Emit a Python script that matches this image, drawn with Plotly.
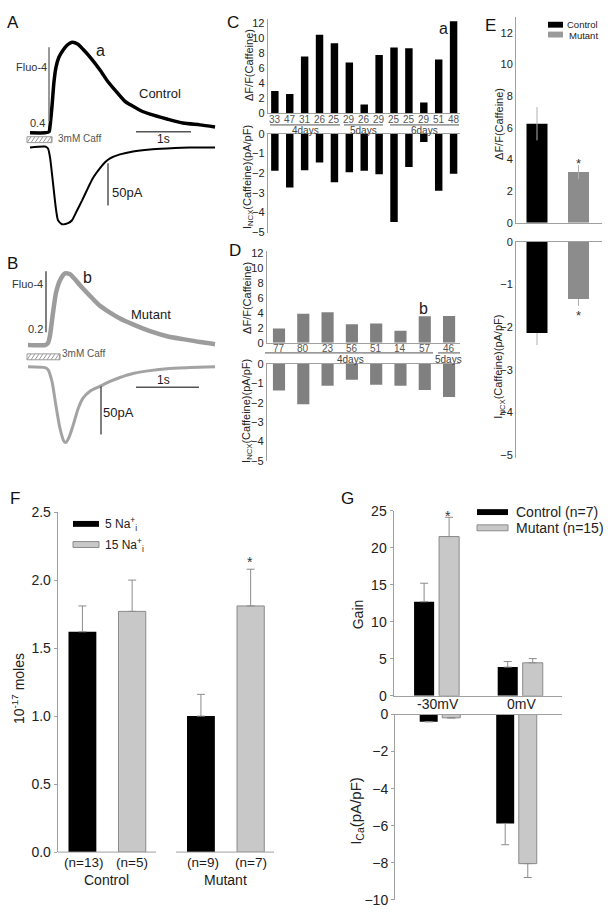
import plotly.graph_objects as go

FONT = "Liberation Sans, Arial, sans-serif"
W, H = 612, 922

# ---------------- data ----------------
# Panel A (Control) traces: time (s), dF/F and current (pA)
A_fluo_t = [0, .273, .345, .364, .400, .436, .473, .527, .600, .673, .764, .873, .964, 1.091, 1.273,
            1.418, 1.582, 1.727, 1.873, 2.036, 2.182, 2.491, 2.782, 3.091, 3.364]
A_fluo = [0, 0, .005, .037, .144, .277, .357, .411, .448, .475, .491, .480, .453, .411, .341,
          .277, .219, .171, .144, .117, .101, .075, .053, .043, .032]
A_curr_t = [0, .273, .327, .364, .418, .473, .509, .582, .691, .764, .855, .945, 1.055, 1.145, 1.273,
            1.364, 1.455, 1.636, 1.873, 2.182, 2.491, 2.909, 3.364]
A_curr = [0, 1.25, -1.25, -12.5, -45, -78.75, -92.5, -97.5, -96.25, -92.5, -80, -67.5, -51.25, -38.75,
          -26.25, -18.75, -13.75, -8.75, -5, -2.5, -1.25, 0, 0]

# Panel B (Mutant) traces
B_fluo_t = [0, .279, .328, .361, .410, .459, .525, .607, .689, .770, .852, 1.016, 1.180, 1.344, 1.508,
            1.721, 2.000, 2.279, 2.541, 2.820, 3.066]
B_fluo = [0, 0, .007, .033, .110, .177, .220, .243, .240, .223, .203, .167, .133, .110, .090,
          .070, .047, .030, .020, .010, .003]
B_curr_t = [0, .279, .328, .393, .459, .525, .590, .623, .672, .738, .820, .902, 1.016, 1.180, 1.344,
            1.508, 1.721, 2.000, 2.279, 2.656, 3.066]
B_curr = [0, -1.0, -3.1, -15.6, -41.7, -65.6, -79.2, -80.2, -75.0, -62.5, -44.8, -33.3, -26.0, -20.8,
          -15.6, -11.5, -7.3, -4.2, -2.1, -1.0, 0]

# Panel C (control cells)
C_cells = ["33", "47", "31", "26", "25", "29", "26", "29", "25", "25", "29", "51", "48"]
C_dff = [3.0, 2.6, 7.6, 10.5, 9.35, 6.8, 1.2, 7.8, 8.8, 8.7, 1.45, 7.2, 12.3]
C_incx = [-1.88, -2.73, -1.85, -1.46, -2.47, -1.96, -1.88, -2.06, -4.5, -1.69, -0.4, -2.9, -2.03]
C_days = ["4days", "5days", "6days"]

# Panel D (mutant cells)
D_cells = ["77", "80", "23", "56", "51", "14", "57", "46"]
D_dff = [1.93, 3.9, 4.1, 2.5, 2.6, 1.6, 3.55, 3.6]
D_incx = [-1.37, -2.08, -1.12, -0.81, -1.07, -1.12, -1.34, -1.71]
D_days = ["4days", "5days"]

# Panel E (means)
E_groups = ["Control", "Mutant"]
E_dff = [6.25, 3.2]
E_dff_err = [1.05, 0.45]
E_incx = [-2.14, -1.34]
E_incx_err = [0.28, 0.16]

# Panel F
F_groups = ["Control", "Mutant"]
F_na5 = [1.62, 1.0]
F_na5_err = [0.19, 0.16]
F_na15 = [1.77, 1.81]
F_na15_err = [0.23, 0.27]
F_n5 = ["(n=13)", "(n=9)"]
F_n15 = ["(n=5)", "(n=7)"]

# Panel G
G_groups = ["-30mV", "0mV"]
G_gain_ctrl = [12.7, 3.88]
G_gain_ctrl_err = [2.5, 0.75]
G_gain_mut = [21.5, 4.46]
G_gain_mut_err = [2.6, 0.57]
G_ica_ctrl = [-0.39, -5.88]
G_ica_ctrl_err = [0.0, 1.15]
G_ica_mut = [-0.18, -8.05]
G_ica_mut_err = [0.0, 0.75]

# ---------------- helpers ----------------
def PX(x): return x / W
def PY(y): return 1 - y / H
def XD(a, b): return [a / W, b / W]
def YD(top, bot): return [1 - bot / H, 1 - top / H]

shapes, annotations = [], []

def ann(text, x, y, size, color="#1a1a1a", xanchor="center", angle=0, xref="paper"):
    annotations.append(dict(text=text, x=PX(x) if xref == "paper" else x, y=PY(y), xref=xref, yref="paper",
                            showarrow=False, font=dict(size=size, color=color, family=FONT), xanchor=xanchor,
                            yanchor="middle", textangle=angle, borderpad=0))

def line(x0, y0, x1, y1, color="#555", width=1.5):
    shapes.append(dict(type="line", xref="paper", yref="paper", x0=PX(x0), y0=PY(y0), x1=PX(x1), y1=PY(y1),
                       line=dict(color=color, width=width)))

def rect(x0, y0, x1, y1, fill, lc=None, lw=0):
    shapes.append(dict(type="rect", xref="paper", yref="paper", x0=PX(x0), y0=PY(y0), x1=PX(x1), y1=PY(y1),
                       fillcolor=fill, line=dict(color=lc or fill, width=lw)))

def hatch(x0, y0, x1, y1, color="#999"):
    rect(x0, y0, x1, y1, "rgba(0,0,0,0)", color, 1)
    p = ""
    x = x0
    while x < x1:
        xa, xb = x, min(x + 4, x1)
        p += f"M{PX(xa)},{PY(y1)} L{PX(xb)},{PY(y0)} "
        x += 4
    shapes.append(dict(type="path", xref="paper", yref="paper", path=p, line=dict(color=color, width=1)))

AXC = "#a0a0a0"
def vaxis(**kw):
    d = dict(showline=True, linecolor=AXC, linewidth=1, showgrid=False, zeroline=False, ticks="",
             tickfont=dict(size=11, color="#222", family=FONT))
    d.update(kw)
    return d

layout = dict(width=W, height=H, margin=dict(l=0, r=0, t=0, b=0), paper_bgcolor="white",
              plot_bgcolor="rgba(0,0,0,0)", showlegend=False, barmode="overlay", hovermode=False,
              font=dict(family=FONT, color="#1a1a1a"))

fig = go.Figure()

# ---------------- Panel A ----------------
a_t0, a_sp = 30, 1 / 55          # px of t=0, s per px
a_fb, a_fs = 127, 0.4 / 75       # baseline px, dF/F per px
a_cb, a_cs = 142, 50 / 40        # baseline px, pA per px
layout["xaxis"] = dict(domain=XD(20, 230), range=[(20 - a_t0) * a_sp, (230 - a_t0) * a_sp], visible=False, anchor="y")
layout["yaxis"] = dict(domain=YD(20, 230), range=[(a_fb - 230) * a_fs, (a_fb - 20) * a_fs], visible=False, anchor="x")
layout["yaxis2"] = dict(range=[(a_cb - 230) * a_cs, (a_cb - 20) * a_cs], visible=False, anchor="x", overlaying="y")
fig.add_trace(go.Scatter(x=A_fluo_t, y=A_fluo, xaxis="x", yaxis="y", mode="lines",
                         line=dict(color="black", width=3.5, shape="spline", smoothing=0.6)))
fig.add_trace(go.Scatter(x=A_curr_t, y=A_curr, xaxis="x", yaxis="y2", mode="lines",
                         line=dict(color="black", width=2, shape="spline", smoothing=0.6)))

# ---------------- Panel B ----------------
b_t0, b_sp = 28, 1 / 61
b_fb, b_fs = 343, 0.2 / 60
b_cb, b_cs = 365, 50 / 48
layout["xaxis2"] = dict(domain=XD(20, 230), range=[(20 - b_t0) * b_sp, (230 - b_t0) * b_sp], visible=False, anchor="y3")
layout["yaxis3"] = dict(domain=YD(255, 465), range=[(b_fb - 465) * b_fs, (b_fb - 255) * b_fs], visible=False, anchor="x2")
layout["yaxis4"] = dict(range=[(b_cb - 465) * b_cs, (b_cb - 255) * b_cs], visible=False, anchor="x2", overlaying="y3")
fig.add_trace(go.Scatter(x=B_fluo_t, y=B_fluo, xaxis="x2", yaxis="y3", mode="lines",
                         line=dict(color="#9c9c9c", width=4.5, shape="spline", smoothing=0.6)))
fig.add_trace(go.Scatter(x=B_curr_t, y=B_curr, xaxis="x2", yaxis="y4", mode="lines",
                         line=dict(color="#a3a3a3", width=3, shape="spline", smoothing=0.6)))

# ---------------- Panel C ----------------
nC = len(C_cells)
layout["xaxis3"] = vaxis(domain=XD(267.7, 460), range=[-0.48, nC - 0.57], anchor="y5", showticklabels=False)
layout["yaxis5"] = vaxis(domain=YD(11, 107.3), range=[0, 12.62], anchor="x3", tickvals=list(range(0, 13, 2)))
layout["xaxis4"] = vaxis(domain=XD(267.7, 460), range=[-0.48, nC - 0.57], anchor="y6", side="top",
                         showticklabels=False)
layout["yaxis6"] = vaxis(domain=YD(128.3, 228.7), range=[-5.05, 0], anchor="x4", tickvals=list(range(0, -6, -1)))
fig.add_trace(go.Bar(x=list(range(nC)), y=C_dff, xaxis="x3", yaxis="y5", width=0.5, marker=dict(color="black", line_width=0)))
fig.add_trace(go.Bar(x=list(range(nC)), y=C_incx, xaxis="x4", yaxis="y6", width=0.5, marker=dict(color="black", line_width=0)))
for i, lab in enumerate(C_cells):
    ann(lab, i, 113, 10, "#555", xref="x3")
for (x0, x1), lab in zip([(270, 340), (344, 383), (390, 459)], C_days):
    line(x0, 119, x1, 119, "#555", 1)
    ann(lab, (x0 + x1) / 2, 124.5, 10, "#444")
ann("a", 443, 21, 16)
ann("ΔF/F(Caffeine)", 249, 58, 11, "#222", angle=-90)
ann("I<sub>NCX</sub>(Caffeine)(pA/pF)", 248, 172, 11, "#222", angle=-90)

# ---------------- Panel D ----------------
nD = len(D_cells)
layout["xaxis5"] = vaxis(domain=XD(266.7, 460), range=[-0.506, nD - 0.55], anchor="y7", showticklabels=False)
layout["yaxis7"] = vaxis(domain=YD(247.4, 340.7), range=[0, 12.3], anchor="x5", tickvals=list(range(0, 13, 2)))
layout["xaxis6"] = vaxis(domain=XD(266.7, 460), range=[-0.506, nD - 0.55], anchor="y8", side="top",
                         showticklabels=False)
layout["yaxis8"] = vaxis(domain=YD(362.3, 461.5), range=[-5.04, 0], anchor="x6", tickvals=list(range(0, -6, -1)))
fig.add_trace(go.Bar(x=list(range(nD)), y=D_dff, xaxis="x5", yaxis="y7", width=0.5, marker=dict(color="#808080", line_width=0)))
fig.add_trace(go.Bar(x=list(range(nD)), y=D_incx, xaxis="x6", yaxis="y8", width=0.5, marker=dict(color="#808080", line_width=0)))
for i, lab in enumerate(D_cells):
    ann(lab, i, 346.5, 10, "#555", xref="x5")
for (x0, x1), lab, cx in zip([(265, 433), (438, 460)], D_days, [350, 449]):
    line(x0, 351, x1, 351, "#555", 1)
    ann(lab, cx, 357.5, 10, "#444")
ann("b", 423, 306, 16)
ann("ΔF/F(Caffeine)", 247, 295, 11, "#222", angle=-90)
ann("I<sub>NCX</sub>(Caffeine)(pA/pF)", 247, 410, 11, "#222", angle=-90)

# ---------------- Panel E ----------------
layout["xaxis7"] = vaxis(domain=XD(516, 602), range=[-0.506, 1.566], anchor="y9", showticklabels=False,
                         type="category", categoryorder="array", categoryarray=E_groups)
layout["yaxis9"] = vaxis(domain=YD(9, 218.5), range=[0, 13.0], anchor="x7", tickvals=list(range(0, 13, 2)))
layout["xaxis8"] = vaxis(domain=XD(516, 602), range=[-0.506, 1.566], anchor="y10", side="top", showticklabels=False,
                         type="category", categoryorder="array", categoryarray=E_groups)
layout["yaxis10"] = vaxis(domain=YD(238, 458), range=[-5.07, 0], anchor="x8", tickvals=list(range(0, -6, -1)))
fig.add_trace(go.Bar(x=E_groups, y=E_dff, xaxis="x7", yaxis="y9", width=0.506,
                     marker=dict(color=["black", "#8c8c8c"], line_width=0),
                     error_y=dict(type="data", array=E_dff_err, color="#b0b0b0", thickness=1, width=0)))
fig.add_trace(go.Bar(x=E_groups, y=E_incx, xaxis="x8", yaxis="y10", width=0.506,
                     marker=dict(color=["black", "#8c8c8c"], line_width=0),
                     error_y=dict(type="data", array=[0, 0], arrayminus=E_incx_err, color="#b0b0b0", thickness=1, width=0)))
ann("*", 578.5, 158, 13, "#333")
ann("*", 578.5, 313, 13, "#333")
ann("ΔF/F(Caffeine)", 499, 118, 11, "#222", angle=-90)
ann("I<sub>NCX</sub>(Caffeine)(pA/pF)", 499, 365, 11, "#222", angle=-90)
rect(548, 14, 563, 20, "black")
rect(548, 24, 563, 30, "#9a9a9a")
ann("Control", 566, 16.8, 9.5, "#222", xanchor="left")
ann("Mutant", 568, 27.5, 9.5, "#222", xanchor="left")

# ---------------- Panel F ----------------
layout["xaxis9"] = dict(domain=XD(57.7, 290), range=[-0.416, 1.544], anchor="y11", visible=False,
                        type="category", categoryorder="array", categoryarray=F_groups)
layout["yaxis11"] = vaxis(domain=YD(513, 859), range=[0, 2.5], anchor="x9", tickvals=[0, 0.5, 1, 1.5, 2, 2.5],
                          tickformat=".1f", ticks="outside", ticklen=3, tickcolor=AXC,
                          tickfont=dict(size=14, color="#222", family=FONT))
EB = dict(color="#8c8c8c", thickness=1, width=4)
fig.add_trace(go.Bar(x=F_groups, y=F_na5, xaxis="x9", yaxis="y11", offset=-0.325, width=0.235,
                     marker=dict(color="black", line_width=0),
                     error_y=dict(type="data", array=F_na5_err, arrayminus=[0, 0], **EB)))
fig.add_trace(go.Bar(x=F_groups, y=F_na15, xaxis="x9", yaxis="y11", offset=0.097, width=0.23,
                     marker=dict(color="#c8c8c8", line=dict(color="#8a8a8a", width=1)),
                     error_y=dict(type="data", array=F_na15_err, arrayminus=[0, 0], **EB)))
line(57.7, 859, 156, 859, AXC, 1)
line(176, 859, 274, 859, AXC, 1)
for cx, n5, n15, g in zip([106.5, 225.5], F_n5, F_n15, F_groups):
    ann(n5, cx - 23, 870, 13.5)
    ann(n15, cx + 25, 870, 13.5)
    ann(g, cx, 887, 14)
ann("*", 250, 564, 14, "#333")
ann("10<sup>-17</sup> moles", 18, 693, 14, "#222", angle=-90)
rect(73, 522, 99, 528, "black")
rect(73, 543, 99, 549, "#c8c8c8", "#8a8a8a", 1)
ann("5 Na<sup>+</sup><sub>i</sub>", 104, 525, 12, "#222", xanchor="left")
ann("15 Na<sup>+</sup><sub>i</sub>", 104, 546, 12, "#222", xanchor="left")

# ---------------- Panel G ----------------
layout["xaxis10"] = vaxis(domain=XD(393.5, 562), range=[-0.515, 1.50], anchor="y12", showticklabels=False,
                          type="category", categoryorder="array", categoryarray=G_groups)
layout["yaxis12"] = vaxis(domain=YD(511.5, 700), range=[0, 25], anchor="x10", tickvals=list(range(0, 26, 5)),
                          ticks="outside", ticklen=3, tickcolor=AXC, tickfont=dict(size=14, color="#222", family=FONT))
layout["xaxis11"] = vaxis(domain=XD(395, 562), range=[-0.588, 1.595], anchor="y13", side="top", showticklabels=False,
                          type="category", categoryorder="array", categoryarray=G_groups)
layout["yaxis13"] = vaxis(domain=YD(719, 907.5), range=[-10, 0], anchor="x11", tickvals=list(range(0, -11, -2)),
                          ticks="outside", ticklen=3, tickcolor=AXC, tickfont=dict(size=14, color="#222", family=FONT))
fig.add_trace(go.Bar(x=G_groups, y=G_gain_ctrl, xaxis="x10", yaxis="y12", offset=-0.269, width=0.24,
                     marker=dict(color="black", line_width=0),
                     error_y=dict(type="data", array=G_gain_ctrl_err, arrayminus=[0, 0], **EB)))
fig.add_trace(go.Bar(x=G_groups, y=G_gain_mut, xaxis="x10", yaxis="y12", offset=0.03, width=0.24,
                     marker=dict(color="#c8c8c8", line=dict(color="#8a8a8a", width=1)),
                     error_y=dict(type="data", array=G_gain_mut_err, arrayminus=[0, 0], **EB)))
fig.add_trace(go.Bar(x=G_groups, y=G_ica_ctrl, xaxis="x11", yaxis="y13", offset=-0.265, width=0.235,
                     marker=dict(color="black", line_width=0),
                     error_y=dict(type="data", array=[0, 0], arrayminus=G_ica_ctrl_err, **EB)))
fig.add_trace(go.Bar(x=G_groups, y=G_ica_mut, xaxis="x11", yaxis="y13", offset=0.03, width=0.235,
                     marker=dict(color="#c8c8c8", line=dict(color="#8a8a8a", width=1)),
                     error_y=dict(type="data", array=[0, 0], arrayminus=G_ica_mut_err, **EB)))
for i, g in enumerate(G_groups):
    ann(g, i + 0.02, 708, 14, "#222", xref="x10")
ann("*", 448, 517, 14, "#333")
ann("Gain", 358, 617, 14, "#222", angle=-90)
ann("I<sub>Ca</sub>(pA/pF)", 357, 817, 15, "#222", angle=-90)
rect(477, 510, 508, 516, "black")
rect(477, 526, 508, 532, "#c8c8c8", "#8a8a8a", 1)
ann("Control (n=7)", 515, 513, 14, "#222", xanchor="left")
ann("Mutant (n=15)", 515, 529, 14, "#222", xanchor="left")

# ---------------- Panel A/B annotations & scale bars ----------------
line(49, 40, 49, 115, "#777", 1.5)
ann("Fluo-4", 31, 60, 11, "#333")
ann("0.4", 37, 117, 11, "#333")
ann("a", 100, 43, 16)
ann("Control", 160, 87, 13)
hatch(27, 131, 52, 137)
ann("3mM Caff", 57, 133, 10, "#555", xanchor="left")
line(136, 126, 191, 126, "#555", 1.5)
ann("1s", 163, 133, 12)
line(108, 158, 108, 201, "#555", 1.5)
ann("50pA", 111, 188, 13, xanchor="left")

line(46, 268, 46, 330, "#555", 1.5)
ann("Fluo-4", 28, 281, 11, "#333")
ann("0.2", 35, 327, 11, "#333")
ann("b", 87, 274, 16)
ann("Mutant", 151, 312, 13)
hatch(27, 352, 60, 358)
ann("3mM Caff", 61, 352, 10, "#555", xanchor="left")
line(136, 386, 199, 386, "#555", 1.5)
ann("1s", 163, 379, 12)
line(101, 385, 101, 434, "#555", 1.5)
ann("50pA", 102, 412, 13, xanchor="left")

# panel letters
for lab, x, y in [("A", 13, 15), ("B", 12, 260), ("C", 233, 15), ("D", 235, 247),
                  ("E", 490, 18), ("F", 15, 499), ("G", 347, 499)]:
    ann(lab, x, y, 17, "#111")

layout["shapes"] = shapes
layout["annotations"] = annotations
fig.update_layout(**layout)
fig.write_html("out.html", config={"displayModeBar": False, "staticPlot": True},
               post_script="document.body.style.margin='0px';document.body.style.padding='0px';")
